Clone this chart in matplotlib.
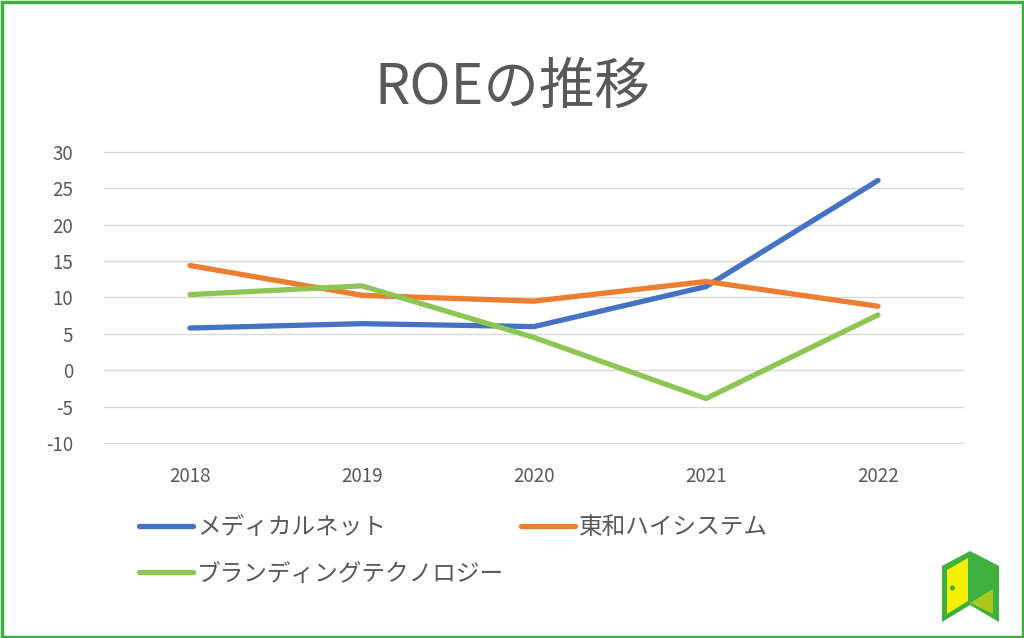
import matplotlib
matplotlib.use("Agg")
import matplotlib.pyplot as plt
from matplotlib.patches import Polygon, Ellipse, Rectangle

plt.rcParams['font.family'] = ['Noto Sans CJK JP', 'DejaVu Sans']
plt.rcParams['axes.unicode_minus'] = False

years = ["2018", "2019", "2020", "2021", "2022"]
medical = [5.8, 6.4, 6.0, 11.5, 26.1]
towa = [14.4, 10.3, 9.5, 12.2, 8.8]
branding = [10.4, 11.6, 4.5, -3.9, 7.6]

names = ["メディカルネット", "東和ハイシステム", "ブランディングテクノロジー"]
colors = ["#4472C4", "#ED7D31", "#8DC652"]
yticks = [-10, -5, 0, 5, 10, 15, 20, 25, 30]

W, H = 1024, 638
fig = plt.figure(figsize=(W / 100, H / 100), dpi=100)
fig.patch.set_facecolor("white")

# green frame round the picture
fig.patches.append(Rectangle((1.5 / W, 1.5 / H), 1 - 3 / W, 1 - 3 / H,
                             transform=fig.transFigure, fill=False,
                             edgecolor="#3DB03D", linewidth=2.5))

ax = fig.add_axes([104 / W, 1 - 444 / H, 860 / W, 293 / H])
x = range(len(years))
lines = []
for vals, c in zip([medical, towa, branding], colors):
    ln, = ax.plot(x, vals, color=c, linewidth=3.8, solid_capstyle="round",
                  solid_joinstyle="round")
    lines.append(ln)

ax.set_xlim(-0.5, 4.5)
ax.set_ylim(-10.15, 30.15)
ax.set_yticks(yticks)
ax.set_xticks(list(x))
ax.set_xticklabels(years)
ax.grid(axis="y", color="#D9D9D9", linewidth=1)
ax.set_axisbelow(True)
for s in ax.spines.values():
    s.set_visible(False)
ax.tick_params(length=0, colors="#595959", labelsize=13.5)
ax.tick_params(axis="x", pad=16)
ax.tick_params(axis="y", pad=22)

fig.text(0.5, 1 - 88 / H, "ROEの推移", ha="center", va="center",
         fontsize=40, color="#595959")

fig.legend([lines[0], lines[2], lines[1]], [names[0], names[2], names[1]],
           ncol=2, loc="upper left", bbox_to_anchor=(139 / W, 1 - 516 / H),
           frameon=False, borderpad=0, borderaxespad=0, fontsize=17,
           handlelength=2.3, handletextpad=0.15, columnspacing=0.72,
           labelspacing=1.0, labelcolor="#595959")

# small logo in the lower right corner
def px(pts):
    return [(a / W, 1 - b / H) for a, b in pts]

fig.patches.append(Polygon(px([(942, 566), (970, 551), (999, 566), (999, 622),
                               (970, 605), (942, 622)]),
                           closed=True, transform=fig.transFigure,
                           facecolor="#3DB03D", edgecolor="none"))
fig.patches.append(Polygon(px([(947, 570), (968, 558), (968, 601), (947, 614)]),
                           closed=True, transform=fig.transFigure,
                           facecolor="#F5F000", edgecolor="none"))
fig.patches.append(Polygon(px([(970, 603), (993, 589), (993, 614)]),
                           closed=True, transform=fig.transFigure,
                           facecolor="#A8C81E", edgecolor="none"))
fig.patches.append(Ellipse((952.5 / W, 1 - 588 / H), 5 / W, 5 / H,
                           transform=fig.transFigure,
                           facecolor="#3DB03D", edgecolor="none"))

fig.savefig("out.png", dpi=100)
